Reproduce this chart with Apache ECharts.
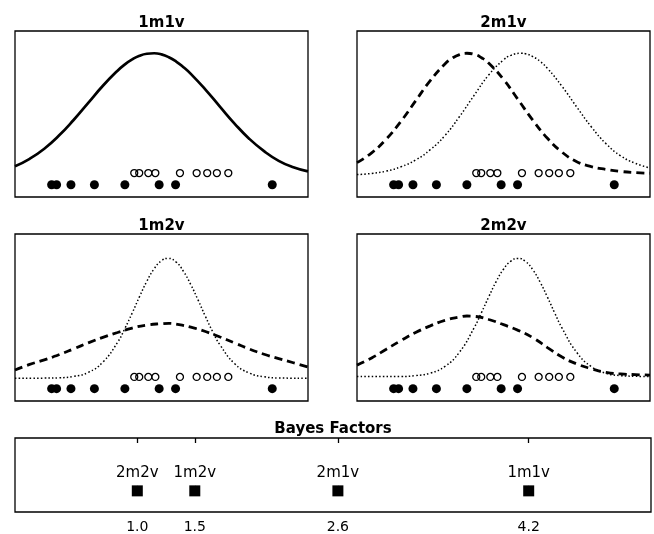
<!DOCTYPE html>
<html>
<head>
<meta charset="utf-8">
<script src="https://cdn.jsdelivr.net/npm/echarts@6/dist/echarts.min.js"></script>
<style>
html, body { margin: 0; padding: 0; background: #fff; }
#chart { width: 654px; height: 534px; }
</style>
</head>
<body>
<div id="chart"></div>
<script>
// panel names
var panelTitles = ['1m1v', '2m1v', '1m2v', '2m2v'];

// observations shown as a rug under every panel
var filledObs = [1.25, 1.42, 1.91, 2.71, 3.75, 4.92, 5.48, 8.78];
var openObs = [4.07, 4.24, 4.55, 4.79, 5.63, 6.20, 6.56, 6.89, 7.28];

// fitted densities as [x, height]
var fit1m1v = [[0, 18.5], [0.5, 23.0], [1, 29.1], [1.5, 37.0], [2, 46.4], [2.5, 56.7], [3, 67.0], [3.5, 76.1],
    [3.75, 79.9], [4, 82.9], [4.25, 85.1], [4.5, 86.3], [4.75, 86.6], [5, 85.9], [5.25, 84.2], [5.5, 81.6],
    [5.75, 78.2], [6, 74.2], [6.5, 64.7], [7, 54.3], [7.5, 44.1], [8, 35.0], [8.5, 27.6], [9, 21.8],
    [9.5, 17.9], [10, 15.4]];
var fit2m1vA = [[0, 20.7], [0.5, 26.6], [1, 34.9], [1.5, 45.6], [2, 57.9], [2.5, 70.1], [3, 80.1], [3.25, 83.6],
    [3.5, 85.8], [3.75, 86.6], [4, 86.0], [4.25, 83.9], [4.5, 80.6], [5, 70.8], [5.5, 58.6], [6, 46.3],
    [6.5, 35.4], [7, 27.0], [7.5, 21.3], [8, 18.3], [8.5, 16.6], [9, 15.4], [9.5, 14.7], [10, 14.3]];
var fit2m1vB = [[0, 13.5], [0.5, 14.2], [1, 15.6], [1.5, 18.2], [2, 22.3], [2.5, 28.5], [3, 37.0], [3.5, 48.5],
    [4, 61.3], [4.5, 73.6], [5, 82.6], [5.25, 85.3], [5.6, 86.6], [5.75, 86.3], [6, 84.6], [6.25, 81.7],
    [6.5, 77.5], [7, 66.6], [7.5, 54.2], [8, 42.2], [8.5, 32.1], [9, 24.8], [9.5, 20.3], [10, 17.5]];
var fit1m2vA = [[0, 18.6], [0.5, 21.9], [1, 24.6], [1.5, 27.7], [2, 31.2], [2.5, 34.8], [3, 38.1], [3.5, 41.0],
    [4, 43.7], [4.5, 45.5], [5, 46.3], [5.25, 46.5], [5.5, 46.0], [6, 44.2], [6.5, 41.6], [7, 38.3],
    [7.5, 34.7], [8, 31.1], [8.5, 28.0], [9, 25.4], [9.5, 22.9], [10, 20.4]];
var fit1m2vB = [[0, 13.6], [1, 13.7], [1.5, 13.9], [2, 14.7], [2.5, 17.1], [3, 23.3], [3.5, 35.1], [3.75, 43.4],
    [4, 52.7], [4.25, 62.5], [4.5, 71.7], [4.75, 79.2], [5, 84.0], [5.22, 85.4], [5.5, 83.2], [5.75, 77.6],
    [6, 69.7], [6.25, 60.4], [6.5, 50.6], [6.75, 41.4], [7, 33.5], [7.5, 22.3], [8, 16.7], [8.5, 14.5],
    [9, 13.8], [10, 13.6]];
var fit2m2vA = [[0, 21.5], [0.5, 25.8], [1, 31.0], [1.5, 36.2], [2, 41.0], [2.5, 45.0], [3, 48.3], [3.5, 50.3],
    [3.75, 50.9], [4, 50.7], [4.5, 48.8], [5, 45.7], [5.5, 42.3], [6, 37.9], [6.5, 32.0], [7, 26.3],
    [7.5, 22.2], [8, 19.3], [8.5, 17.1], [9, 16.2], [9.5, 15.8], [10, 15.5]];
var fit2m2vB = [[0, 14.6], [1.5, 14.7], [2, 15.2], [2.5, 16.7], [3, 20.7], [3.5, 29.3], [4, 43.9], [4.25, 53.0],
    [4.5, 62.5], [4.75, 71.5], [5, 78.9], [5.25, 83.7], [5.5, 85.4], [5.75, 83.6], [6, 78.6], [6.25, 71.2],
    [6.5, 62.2], [6.75, 52.6], [7, 43.6], [7.5, 29.1], [8, 20.6], [8.5, 16.6], [9, 15.2], [9.5, 14.8],
    [10, 14.6]];

// Bayes factors
var bfModels = ['2m2v', '1m2v', '2m1v', '1m1v'];
var bfValues = [1.0, 1.47, 2.64, 4.2];
var bfTicks = ['1.0', '1.5', '2.6', '4.2'];

var FONT = 'DejaVu Sans';
var chart = echarts.init(document.getElementById('chart'));

var boxes = [
    { left: 15, top: 31, width: 293, height: 166 },
    { left: 357, top: 31, width: 293, height: 166 },
    { left: 15, top: 234, width: 293, height: 167 },
    { left: 357, top: 234, width: 293, height: 167 }
];
var bfBox = { left: 15, top: 438, width: 636, height: 74 };

var solid = { color: '#000', type: 'solid', width: 2.7 };
var dashed = { color: '#000', type: [8, 5], width: 2.8 };
var dotted = { color: '#000', type: [1.5, 2.2], width: 1.5 };

var panelCurves = [
    [[fit1m1v, solid]],
    [[fit2m1vA, dashed], [fit2m1vB, dotted]],
    [[fit1m2vA, dashed], [fit1m2vB, dotted]],
    [[fit2m2vA, dashed], [fit2m2vB, dotted]]
];

var grids = [], xAxes = [], yAxes = [], series = [], titles = [];

boxes.forEach(function (b, i) {
    grids.push({
        left: b.left, top: b.top, width: b.width, height: b.height,
        show: true, borderColor: '#000', borderWidth: 1.3, backgroundColor: 'transparent'
    });
    xAxes.push({ gridIndex: i, type: 'value', min: 0, max: 10, show: false });
    titles.push({
        text: panelTitles[i], left: b.left + b.width / 2, top: b.top - 8,
        textAlign: 'center', textVerticalAlign: 'middle', padding: 0,
        textStyle: { fontFamily: FONT, fontWeight: 'bold', fontSize: 15, color: '#000' }
    });
});
// curves use y axes 0-3, rug rows use y axes 4-7
boxes.forEach(function (b, i) {
    yAxes.push({ gridIndex: i, type: 'value', min: 0, max: 100, show: false });
});
boxes.forEach(function (b, i) {
    yAxes.push({ gridIndex: i, type: 'value', min: -1.05, max: 13.15, show: false });
});

panelCurves.forEach(function (curves, i) {
    curves.forEach(function (c) {
        series.push({
            type: 'line', xAxisIndex: i, yAxisIndex: i, data: c[0],
            smooth: 0.5, showSymbol: false, lineStyle: c[1], silent: true
        });
    });
    series.push({
        type: 'scatter', xAxisIndex: i, yAxisIndex: 4 + i,
        data: filledObs.map(function (v) { return [v, 0]; }),
        symbol: 'circle', symbolSize: 9, itemStyle: { color: '#000', opacity: 1 }, silent: true
    });
    series.push({
        type: 'scatter', xAxisIndex: i, yAxisIndex: 4 + i,
        data: openObs.map(function (v) { return [v, 1]; }),
        symbol: 'circle', symbolSize: 7,
        itemStyle: { color: 'rgba(0,0,0,0)', borderColor: '#000', borderWidth: 1.3, opacity: 1 }, silent: true
    });
});

// Bayes factor strip
grids.push({
    left: bfBox.left, top: bfBox.top, width: bfBox.width, height: bfBox.height,
    show: true, borderColor: '#000', borderWidth: 1.3, backgroundColor: 'transparent'
});
var bfTick = { show: true, inside: true, length: 5, customValues: bfValues, lineStyle: { color: '#000', width: 1.3 } };
xAxes.push({
    gridIndex: 4, type: 'value', min: 0, max: 5.2, position: 'bottom',
    axisLine: { show: false }, splitLine: { show: false }, axisTick: bfTick,
    axisLabel: {
        customValues: bfValues, margin: 8, color: '#000', fontSize: 14, fontFamily: FONT,
        formatter: function (v) { return bfTicks[bfValues.indexOf(v)]; }
    }
});
xAxes.push({
    gridIndex: 4, type: 'value', min: 0, max: 5.2, position: 'top',
    axisLine: { show: false }, splitLine: { show: false }, axisTick: bfTick,
    axisLabel: { show: false }
});
yAxes.push({ gridIndex: 4, type: 'value', min: -0.4, max: 1, show: false });
series.push({
    type: 'scatter', xAxisIndex: 4, yAxisIndex: 8,
    data: bfValues.map(function (v) { return [v, 0]; }),
    symbol: 'rect', symbolSize: 11, itemStyle: { color: '#000', opacity: 1 }, silent: true,
    label: {
        show: true, position: 'top', distance: 5, color: '#000', fontSize: 15, fontFamily: FONT,
        formatter: function (p) { return bfModels[p.dataIndex]; }
    }
});
titles.push({
    text: 'Bayes Factors', left: bfBox.left + bfBox.width / 2, top: 429,
    textAlign: 'center', textVerticalAlign: 'middle', padding: 0,
    textStyle: { fontFamily: FONT, fontWeight: 'bold', fontSize: 15, color: '#000' }
});

chart.setOption({
    animation: false,
    backgroundColor: '#fff',
    title: titles,
    grid: grids,
    xAxis: xAxes,
    yAxis: yAxes,
    series: series
});
</script>
</body>
</html>
